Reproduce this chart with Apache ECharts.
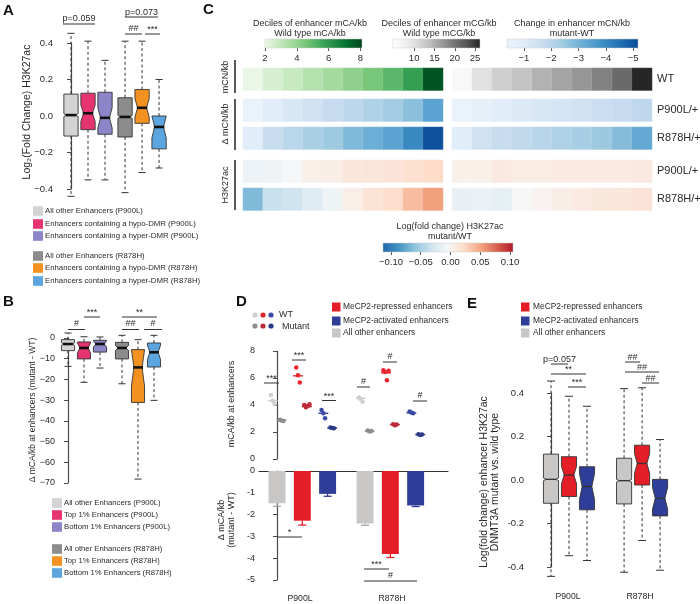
<!DOCTYPE html>
<html><head><meta charset="utf-8">
<script src="https://cdn.jsdelivr.net/npm/echarts@6/dist/echarts.min.js"></script>
<style>html,body{margin:0;padding:0;background:#fff}#c{width:700px;height:604px}</style>
</head><body><div id="c"></div>
<script>
// ================= DATA =================
// Panel A: Log2(Fold Change) H3K27ac (box statistics)
const aNames = ['All other Enhancers (P900L)','Enhancers containing a hypo-DMR (P900L)','Enhancers containing a hyper-DMR (P900L)','All other Enhancers (R878H)','Enhancers containing a hypo-DMR (R878H)','Enhancers containing a hyper-DMR (R878H)'];
const aLow   = [-0.44, -0.35, -0.35, -0.42, -0.31, -0.285];
const aQ1    = [-0.11, -0.075, -0.10, -0.115, -0.04, -0.18];
const aMed   = [0.005, 0.015, -0.01, -0.005, 0.045, -0.06];
const aQ3    = [0.12, 0.125, 0.13, 0.10, 0.145, 0.0];
const aHigh  = [0.453, 0.41, 0.305, 0.41, 0.41, 0.2];
const aNotch = [0.008, 0.045, 0.055, 0.008, 0.05, 0.06];

// Panel B: delta mCA/kb at enhancers (mutant - WT)
const bNames = ['All other Enhancers (P900L)','Top 1% Enhancers (P900L)','Bottom 1% Enhancers (P900L)','All other Enhancers (R878H)','Top 1% Enhancers (R878H)','Bottom 1% Enhancers (R878H)'];
const bLow   = [-13.7, -21.4, -14.5, -22.1, -68.1, -30.1];
const bQ1    = [-6.1, -10.1, -6.8, -10.1, -31.1, -14.0];
const bMed   = [-2.9, -4.8, -2.9, -4.8, -14.2, -6.9];
const bQ3    = [-0.8, -1.9, -1.1, -2.1, -5.6, -2.4];
const bHigh  = [2.4, 0.6, 0.5, 1.3, -0.8, 1.3];
const bNotch = [0.6, 2.4, 1.4, 1.2, 9.0, 3.4];

// Panel C: heatmap deciles
const decileCols = ['1','2','3','4','5','6','7','8','9','10'];
const cRowLabels = ['WT','P900L/+','R878H/+','P900L/+','R878H/+'];
const wtMCA      = [2.07, 2.52, 2.87, 3.28, 3.67, 4.09, 4.53, 5.05, 5.85, 7.75];
const wtMCG      = [6.2, 9.85, 12.0, 13.2, 14.8, 15.9, 17.05, 18.9, 20.9, 26.1];
const dMCA_P900L = [-0.38, -0.95, -1.24, -1.49, -1.75, -1.92, -2.13, -2.35, -2.69, -3.39];
const dMCA_R878H = [-0.9, -1.67, -1.96, -2.25, -2.44, -2.84, -3.12, -3.39, -3.97, -5.05];
const dMCG_P900L = [-0.38, -0.67, -0.95, -1.12, -1.24, -1.35, -1.49, -1.61, -1.75, -1.87];
const dMCG_R878H = [-0.9, -1.46, -1.69, -1.85, -1.99, -2.14, -2.28, -2.47, -2.78, -3.25];
const h3_P900L_mCA = [-0.012, -0.01, -0.006, 0.004, 0.005, 0.012, 0.013, 0.014, 0.018, 0.022];
const h3_R878H_mCA = [-0.065, -0.036, -0.032, -0.021, -0.011, 0.0045, 0.015, 0.021, 0.0387, 0.052];
const h3_P900L_mCG = [0.003, 0.003, 0.009, 0.007, 0.007, 0.008, 0.008, 0.008, 0.008, 0.009];
const h3_R878H_mCG = [-0.015, -0.013, -0.017, -0.004, 0.0, 0.005, 0.008, 0.011, 0.012, 0.014];
const cbGreenTicks = [2, 4, 6, 8];
const cbGrayTicks  = [10, 15, 20, 25];
const cbBlueTicks  = [-1, -2, -3, -4, -5];
const cbRdBuTicks  = [-0.10, -0.05, 0.00, 0.05, 0.10];

// Panel D
const dGroups = ['P900L', 'R878H'];
const dTypes = ['All other enhancers', 'MeCP2-repressed enhancers', 'MeCP2-activated enhancers'];
const dWT_P900L  = [[4.74, 4.32, 4.07], [6.77, 6.2, 5.67], [3.63, 3.39, 3.02]];
const dMut_P900L = [[2.9, 2.85, 2.82], [4.0, 3.83, 3.93, 4.05], [2.33, 2.3, 2.28]];
const dWT_R878H  = [[4.56, 4.44, 4.25], [6.58, 6.45, 5.84, 6.53], [3.51, 3.45, 3.39]];
const dMut_R878H = [[2.11, 2.04, 2.08], [2.58, 2.5, 2.55], [1.84, 1.77, 1.81]];
const dWTMean_P900L  = [4.32, 6.16, 3.39];
const dMutMean_P900L = [2.88, 3.88, 2.3];
const dWTMean_R878H  = [4.49, 6.38, 3.42];
const dMutMean_R878H = [2.06, 2.55, 1.81];
const dDelta_P900L = [-1.48, -2.28, -1.05];
const dErr_P900L   = [0.14, 0.2, 0.11];
const dDelta_R878H = [-2.41, -3.81, -1.58];
const dErr_R878H   = [0.08, 0.16, 0.05];

// Panel E: log fold change enhancer H3K27ac
const eLow   = [-0.443, -0.348, -0.37, -0.424, -0.278, -0.415];
const eQ1    = [-0.107, -0.076, -0.137, -0.11, -0.023, -0.165];
const eMed   = [0.003, 0.023, -0.03, -0.003, 0.076, -0.084];
const eQ3    = [0.119, 0.107, 0.061, 0.10, 0.16, 0.003];
const eHigh  = [0.455, 0.385, 0.339, 0.42, 0.424, 0.186];
const eNotch = [0.006, 0.04, 0.06, 0.006, 0.045, 0.05];

// ================= STYLE =================
const FONT = '"Liberation Sans", Arial, Helvetica, sans-serif';
const TXT = '#2a2a2a';
const AX = '#4a4a4a';
const abColors = ['#d3d3d3', '#e5346f', '#8c86c8', '#8c8c8c', '#f39220', '#5ca5de'];
const typeColors = ['#c9c6c6', '#e41e26', '#2e3d98'];
const wtDot = ['#cfcfcf', '#e8262e', '#3a4ca6'];
const mutDot = ['#8e8e8e', '#bd2a38', '#2b3a88'];
const GREENS = ['#edf8e9','#c7e9c0','#a1d99b','#74c476','#41ab5d','#238b45','#006d2c','#00441b'];
const GREYS = ['#ffffff','#f0f0f0','#d9d9d9','#bdbdbd','#969696','#737373','#525252','#252525'];
const BLUES = ['#0b4a97','#2171b5','#4292c6','#6baed6','#9ecae1','#c6dbef','#deebf7','#eaf3fb'];
const RDBU = ['#2166ac','#4393c3','#92c5de','#d1e5f0','#f7f7f7','#fddbc7','#f4a582','#d6604d','#b2182b'];
const scales = {
  green: {min: 2, max: 8.1, colors: GREENS},
  gray: {min: 4.8, max: 26.2, colors: GREYS},
  blue: {min: -5.18, max: -0.38, colors: BLUES},
  rdbu: {min: -0.1134, max: 0.105, colors: RDBU}
};

const grids = [], xAxes = [], yAxes = [], series = [], visualMaps = [], G = [];
function addGrid(g) { grids.push(Object.assign({containLabel: false}, g)); return grids.length - 1; }
function txt(text, x, y, o) {
  o = o || {};
  return {type: 'text', x: x, y: y, rotation: o.rot || 0, z: 50, silent: true,
    style: {text: text, fill: o.color || TXT, fontSize: o.size || 9, fontFamily: FONT, fontWeight: o.weight || 'normal',
      align: o.align || 'left', verticalAlign: o.va || 'middle'}};
}
function ln(x1, y1, x2, y2, o) {
  o = o || {};
  return {type: 'line', z: 50, silent: true, shape: {x1, y1, x2, y2}, style: {stroke: o.color || '#333', lineWidth: o.w || 1}};
}
function rect(x, y, w, h, fill) { return {type: 'rect', z: 50, silent: true, shape: {x, y, width: w, height: h}, style: {fill}}; }
function sig(x1, x2, y, t, ty, size) { G.push(ln(x1, y, x2, y, {w: 1})); G.push(txt(t, (x1 + x2) / 2, ty, {align: 'center', size: size || 9})); }
const minus = v => String(v).replace('-', '\u2212');

function valueY(gi, min, max, interval, fmt, fs) {
  yAxes.push({type: 'value', gridIndex: gi, min, max, interval,
    axisLine: {show: true, lineStyle: {color: AX, width: 1.2}},
    axisTick: {show: true, length: 4, lineStyle: {color: AX, width: 1}},
    axisLabel: {fontSize: fs || 9, color: TXT, margin: 4, fontFamily: FONT, formatter: fmt},
    splitLine: {show: false}});
  return yAxes.length - 1;
}
function hiddenX(gi, min, max) {
  xAxes.push({type: 'value', gridIndex: gi, min, max, show: false, splitLine: {show: false}});
  return xAxes.length - 1;
}

// notched box renderer
function boxRender(colors, boxW, opt) {
  return function (params, api) {
    const i = params.dataIndex;
    const x = api.value(0), lo = api.value(1), q1 = api.value(2), md = api.value(3), q3 = api.value(4), hi = api.value(5), n = api.value(6);
    const P = v => api.coord([x, v]);
    const pm = P(md), cx = pm[0], ym = pm[1];
    const hw = api.size([boxW, 0])[0] / 2;
    const L = cx - hw, R = cx + hw;
    const yq3 = P(q3)[1], yq1 = P(q1)[1];
    const yn1 = P(Math.min(md + n, q3))[1], yn2 = P(Math.max(md - n, q1))[1];
    const ind = hw * opt.depth;
    const yhi = P(hi)[1], ylo = P(lo)[1];
    const cw = opt.cap;
    const st = '#333';
    const dash = {stroke: st, fill: null, lineWidth: 1, lineDash: [3, 2.5]};
    const solid = {stroke: st, fill: null, lineWidth: 1};
    const mx1 = L + ind - opt.medExt, mx2 = R - ind + opt.medExt;
    return {type: 'group', children: [
      {type: 'line', shape: {x1: cx, y1: yq3, x2: cx, y2: yhi}, style: dash},
      {type: 'line', shape: {x1: cx, y1: yq1, x2: cx, y2: ylo}, style: dash},
      {type: 'line', shape: {x1: cx - cw, y1: yhi, x2: cx + cw, y2: yhi}, style: solid},
      {type: 'line', shape: {x1: cx - cw, y1: ylo, x2: cx + cw, y2: ylo}, style: solid},
      {type: 'polygon', z2: 1, shape: {points: [[L, yq3], [R, yq3], [R, yn1], [R - ind, ym], [R, yn2], [R, yq1], [L, yq1], [L, yn2], [L + ind, ym], [L, yn1]]},
        style: {fill: colors[i], stroke: st, lineWidth: 0.9}},
      {type: 'rect', z2: 5, shape: {x: mx1, y: ym - opt.medW / 2, width: mx2 - mx1, height: opt.medW}, style: {fill: opt.medColor, stroke: null}}
    ]};
  };
}
function boxData(pos, lo, q1, md, q3, hi, n) { return lo.map((_, i) => [pos(i), lo[i], q1[i], md[i], q3[i], hi[i], n[i]]); }

// ================= PANEL C: heatmaps =================
const blockLeft = [243, 452], blockW = 200;
const rowTop = [68, 99, 127, 160, 188], rowH = 22.5;
const hmRows = [[wtMCA, wtMCG], [dMCA_P900L, dMCG_P900L], [dMCA_R878H, dMCG_R878H], [h3_P900L_mCA, h3_P900L_mCG], [h3_R878H_mCA, h3_R878H_mCG]];
const hmScale = [['green', 'gray'], ['blue', 'blue'], ['blue', 'blue'], ['rdbu', 'rdbu'], ['rdbu', 'rdbu']];
const vmSeries = {green: [], gray: [], blue: [], rdbu: []};
hmRows.forEach((pair, r) => {
  pair.forEach((vals, b) => {
    const gi = addGrid({left: blockLeft[b], top: rowTop[r], width: blockW, height: rowH});
    xAxes.push({type: 'category', gridIndex: gi, data: decileCols, show: false});
    yAxes.push({type: 'category', gridIndex: gi, data: [cRowLabels[r]], show: false});
    vmSeries[hmScale[r][b]].push(series.length);
    series.push({type: 'heatmap', xAxisIndex: xAxes.length - 1, yAxisIndex: yAxes.length - 1,
      data: vals.map((v, i) => [i, 0, v]), itemStyle: {borderColor: 'rgba(255,255,255,0.25)', borderWidth: 0.5}, emphasis: {disabled: true}});
  });
});
Object.keys(vmSeries).forEach(k => {
  visualMaps.push({type: 'continuous', show: false, dimension: 2, seriesIndex: vmSeries[k], min: scales[k].min, max: scales[k].max, inRange: {color: scales[k].colors}});
});
function colorbar(key, left, top, width, ticks, fmt, inverse) {
  const sc = scales[key];
  const gi = addGrid({left, top, width, height: 9});
  xAxes.push({type: 'value', gridIndex: gi, min: sc.min, max: sc.max, inverse: !!inverse, position: 'bottom', offset: 2,
    axisLine: {show: false}, splitLine: {show: false},
    axisTick: {show: true, length: 3, customValues: ticks, lineStyle: {color: '#555'}},
    axisLabel: {show: true, customValues: ticks, fontSize: 9.5, color: TXT, margin: 3, fontFamily: FONT, formatter: fmt}});
  yAxes.push({type: 'value', gridIndex: gi, min: 0, max: 1, show: false});
  const cols = inverse ? sc.colors.slice().reverse() : sc.colors;
  series.push({type: 'custom', xAxisIndex: xAxes.length - 1, yAxisIndex: yAxes.length - 1, silent: true, data: [[sc.min, 0]],
    renderItem: function (params, api) {
      const p0 = api.coord([sc.min, 1]), p1 = api.coord([sc.max, 0]);
      const x = Math.min(p0[0], p1[0]), w = Math.abs(p1[0] - p0[0]);
      return {type: 'rect', shape: {x, y: p0[1], width: w, height: p1[1] - p0[1]},
        style: {fill: new echarts.graphic.LinearGradient(0, 0, 1, 0, cols.map((c, i) => ({offset: i / (cols.length - 1), color: c}))), stroke: '#ccc', lineWidth: 0.5}};
    }});
}
colorbar('green', 265, 39, 97, cbGreenTicks, v => String(v));
colorbar('gray', 393, 39, 87, cbGrayTicks, v => String(v));
colorbar('blue', 507, 39, 131, cbBlueTicks, v => minus(v), true);
colorbar('rdbu', 383, 243, 130, cbRdBuTicks, v => minus(Number(v).toFixed(2)));

// ================= PANEL A =================
{
  const gi = addGrid({left: 57, top: 43, width: 113, height: 146});
  const xi = hiddenX(gi, -14 / 17, -14 / 17 + 113 / 17);
  const yi = valueY(gi, -0.4, 0.4, 0.2, v => minus(v.toFixed(1)), 9.5);
  const pos = i => (i % 3) + Math.floor(i / 3) * 3.18;
  series.push({type: 'custom', xAxisIndex: xi, yAxisIndex: yi, clip: false, silent: true,
    encode: {x: 0, y: 3}, data: boxData(pos, aLow, aQ1, aMed, aQ3, aHigh, aNotch),
    renderItem: boxRender(abColors, 0.84, {depth: 0.38, cap: 3.5, medW: 2.6, medExt: 0.8, medColor: '#111'})});
}
// ================= PANEL B =================
{
  const gi = addGrid({left: 59, top: 338, width: 110, height: 145});
  const xi = hiddenX(gi, -9 / 16, -9 / 16 + 110 / 16);
  const yi = valueY(gi, -70, 0, 10, v => minus(v));
  const pos = i => (i % 3) + Math.floor(i / 3) * 3.375;
  series.push({type: 'custom', xAxisIndex: xi, yAxisIndex: yi, clip: false, silent: true,
    encode: {x: 0, y: 3}, data: boxData(pos, bLow, bQ1, bMed, bQ3, bHigh, bNotch),
    renderItem: boxRender(abColors, 0.82, {depth: 0.38, cap: 3.5, medW: 2.6, medExt: 0.8, medColor: '#111'})});
}
// ================= PANEL D =================
const dUnit = 25.3;
const dPos = (g, t) => t + g * 3.48;
{
  const gi = addGrid({left: 259, top: 351, width: 189, height: 108});
  const xi = hiddenX(gi, -18 / dUnit, -18 / dUnit + 189 / dUnit);
  const yi = valueY(gi, 0, 8, 2, v => String(v));
  const wt = [dWT_P900L, dWT_R878H], mu = [dMut_P900L, dMut_R878H];
  const wtM = [dWTMean_P900L, dWTMean_R878H], muM = [dMutMean_P900L, dMutMean_R878H];
  for (let t = 0; t < 3; t++) {
    const ptsW = [], ptsM = [], mW = [], mM = [];
    for (let g = 0; g < 2; g++) {
      const c = dPos(g, t);
      wt[g][t].forEach((v, j, a) => ptsW.push([c - 0.17 + (j - (a.length - 1) / 2) * 0.07, v]));
      mu[g][t].forEach((v, j, a) => ptsM.push([c + 0.18 + (j - (a.length - 1) / 2) * 0.07, v]));
      mW.push([c - 0.17, wtM[g][t]]);
      mM.push([c + 0.18, muM[g][t]]);
    }
    series.push({type: 'scatter', xAxisIndex: xi, yAxisIndex: yi, silent: true, symbolSize: 4.5, data: ptsW, itemStyle: {color: wtDot[t], opacity: 1}});
    series.push({type: 'scatter', xAxisIndex: xi, yAxisIndex: yi, silent: true, symbolSize: 4.5, data: ptsM, itemStyle: {color: mutDot[t], opacity: 1}});
    series.push({type: 'scatter', xAxisIndex: xi, yAxisIndex: yi, silent: true, symbol: 'rect', symbolSize: [10, 1.4], data: mW, itemStyle: {color: wtDot[t], opacity: 1}});
    series.push({type: 'scatter', xAxisIndex: xi, yAxisIndex: yi, silent: true, symbol: 'rect', symbolSize: [10, 1.4], data: mM, itemStyle: {color: mutDot[t], opacity: 1}});
  }
}
{
  const gi = addGrid({left: 259, top: 471, width: 189, height: 109});
  xAxes.push({type: 'value', gridIndex: gi, min: -18 / dUnit, max: -18 / dUnit + 189 / dUnit, position: 'top',
    axisLine: {show: true, onZero: false, lineStyle: {color: '#333', width: 1.2}}, axisTick: {show: false}, axisLabel: {show: false}, splitLine: {show: false}});
  const xi = xAxes.length - 1;
  const yi = valueY(gi, -5, 0, 1, v => String(v));
  const means = [dDelta_P900L, dDelta_R878H], errs = [dErr_P900L, dErr_R878H];
  const data = [];
  for (let g = 0; g < 2; g++) for (let t = 0; t < 3; t++) data.push([dPos(g, t), means[g][t], errs[g][t], t]);
  series.push({type: 'custom', xAxisIndex: xi, yAxisIndex: yi, clip: false, silent: true, encode: {x: 0, y: 1}, data,
    renderItem: function (params, api) {
      const x = api.value(0), v = api.value(1), e = api.value(2), t = api.value(3);
      const hw = api.size([0.67, 0])[0] / 2;
      const p0 = api.coord([x, 0]), p1 = api.coord([x, v]), p2 = api.coord([x, v - e]);
      const col = typeColors[t];
      const ecol = t === 0 ? '#a9a6a6' : col;
      return {type: 'group', children: [
        {type: 'line', shape: {x1: p0[0], y1: p1[1], x2: p0[0], y2: p2[1]}, style: {stroke: ecol, lineWidth: 1.3}},
        {type: 'line', shape: {x1: p0[0] - 4, y1: p2[1], x2: p0[0] + 4, y2: p2[1]}, style: {stroke: ecol, lineWidth: 1.3}},
        {type: 'rect', shape: {x: p0[0] - hw, y: p0[1], width: 2 * hw, height: p1[1] - p0[1]}, style: {fill: col}}
      ]};
    }});
}
// ================= PANEL E =================
{
  const gi = addGrid({left: 528, top: 393, width: 150, height: 174});
  const xi = hiddenX(gi, -23 / 18, -23 / 18 + 150 / 18);
  const yi = valueY(gi, -0.4, 0.4, 0.2, v => v.toFixed(1), 9.5);
  const pos = i => (i % 3) + Math.floor(i / 3) * 4.06;
  const cols = [typeColors[0], typeColors[1], typeColors[2], typeColors[0], typeColors[1], typeColors[2]];
  series.push({type: 'custom', xAxisIndex: xi, yAxisIndex: yi, clip: false, silent: true,
    encode: {x: 0, y: 3}, data: boxData(pos, eLow, eQ1, eMed, eQ3, eHigh, eNotch),
    renderItem: boxRender(cols, 0.84, {depth: 0.36, cap: 4, medW: 1.3, medExt: 0.3, medColor: '#333'})});
}

// ================= TEXT / ANNOTATIONS =================
[['A', 3, 3], ['B', 3, 294], ['C', 203, 2], ['D', 236, 294], ['E', 467, 296]].forEach(l => G.push(txt(l[0], l[1], l[2], {size: 15, weight: 'bold', va: 'top', color: '#111'})));

// A
G.push(txt('Log\u2082(Fold Change) H3K27ac', 27, 112, {rot: Math.PI / 2, align: 'center', size: 10.5}));
sig(63, 95, 24, 'p=0.059', 19, 9);
sig(125, 158, 17, 'p=0.073', 12.5, 9);
sig(125, 142, 34, '##', 29, 9);
sig(145, 160, 34, '***', 30, 9);
const aLegY = [211, 224, 236, 256, 268, 281];
aNames.forEach((n, i) => { G.push(rect(33, aLegY[i] - 4.8, 10, 9.6, abColors[i])); G.push(txt(n, 45, aLegY[i], {size: 7.8})); });

// B
G.push(txt('\u0394 mCA/kb at enhancers (mutant - WT)', 33, 410, {rot: Math.PI / 2, align: 'center', size: 8.5}));
sig(84, 100, 317, '***', 313, 9);
sig(68, 85, 329.5, '#', 324, 9);
sig(122, 157, 317, '**', 313, 9);
sig(122, 139, 329.5, '##', 324, 9);
sig(144, 162, 329.5, '#', 324, 9);
const bLegY = [503, 515, 527, 549, 561, 573];
bNames.forEach((n, i) => { G.push(rect(52, bLegY[i] - 4.8, 10, 9.6, abColors[i])); G.push(txt(n, 64, bLegY[i], {size: 7.7})); });

// C titles
[['Deciles of enhancer mCA/kb', 'Wild type mCA/kb', 310], ['Deciles of enhancer mCG/kb', 'Wild type mCG/kb', 439], ['Change in enhancer mCN/kb', 'mutant-WT', 572]].forEach(t => {
  G.push(txt(t[0], t[2], 24, {align: 'center', size: 9}));
  G.push(txt(t[1], t[2], 33.5, {align: 'center', size: 9}));
});
G.push(txt('Log(fold change) H3K27ac', 450, 227, {align: 'center', size: 9}));
G.push(txt('mutant/WT', 450, 237, {align: 'center', size: 9}));
cRowLabels.forEach((l, r) => G.push(txt(l, 657, rowTop[r] + rowH / 2, {size: 11})));
G.push(ln(235, 60, 235, 93, {w: 1.5, color: '#222'}));
G.push(ln(235, 99, 235, 150, {w: 1.5, color: '#222'}));
G.push(ln(235, 160, 235, 210, {w: 1.5, color: '#222'}));
G.push(txt('mCN/kb', 226, 77, {rot: Math.PI / 2, align: 'center', size: 9}));
G.push(txt('\u0394 mCN/kb', 226, 124, {rot: Math.PI / 2, align: 'center', size: 9}));
G.push(txt('H3K27ac', 226, 185, {rot: Math.PI / 2, align: 'center', size: 9}));

// D legend
[0, 1, 2].forEach(t => {
  G.push({type: 'circle', z: 50, silent: true, shape: {cx: 255 + 8 * t, cy: 315, r: 2.6}, style: {fill: wtDot[t]}});
  G.push({type: 'circle', z: 50, silent: true, shape: {cx: 255 + 8 * t, cy: 326, r: 2.6}, style: {fill: mutDot[t]}});
});
G.push(txt('WT', 279, 315, {size: 9}));
G.push(txt('Mutant', 282, 327, {size: 9}));
const typeOrder = [1, 2, 0];
const legTY = [307, 321, 333];
typeOrder.forEach((t, k) => {
  G.push(rect(332, legTY[k] - 4.5, 8.5, 9, typeColors[t])); G.push(txt(dTypes[t], 343, legTY[k], {size: 8.4}));
  G.push(rect(521, legTY[k] - 4.5, 8.5, 9, typeColors[t])); G.push(txt(dTypes[t], 533, legTY[k], {size: 8.4}));
});
G.push(txt('mCA/kb at enhancers', 232, 404, {rot: Math.PI / 2, align: 'center', size: 9}));
G.push(txt('\u0394 mCA/kb', 222, 520, {rot: Math.PI / 2, align: 'center', size: 9}));
G.push(txt('(mutant - WT)', 232, 520, {rot: Math.PI / 2, align: 'center', size: 9}));
sig(264, 279, 383, '***', 379);
sig(292, 306, 360, '***', 356);
sig(322, 336, 400.5, '***', 397);
sig(357, 370, 387, '#', 382);
sig(383, 397, 362, '#', 357);
sig(413, 427, 401, '#', 396);
sig(277, 302, 537, '*', 533);
sig(364, 389, 569, '***', 565);
sig(364, 417, 581, '#', 575.5);
G.push(txt(dGroups[0], 300, 599, {align: 'center', size: 8.7}));
G.push(txt(dGroups[1], 392, 599, {align: 'center', size: 8.7}));

// E
G.push(txt('Log(fold change) enhancer H3K27ac', 484, 482, {rot: Math.PI / 2, align: 'center', size: 10.5}));
G.push(txt('DNMT3A mutant vs. wild type', 495, 482, {rot: Math.PI / 2, align: 'center', size: 10.5}));
sig(551, 568, 364, 'p=0.057', 359.5);
sig(551, 586, 374, '**', 370);
sig(568, 586, 387, '***', 383);
sig(625, 640, 362, '##', 357.5);
sig(625, 659, 372, '##', 367.5);
sig(642, 659, 383, '##', 378.5);
G.push(txt(dGroups[0], 568, 597, {align: 'center', size: 8.7}));
G.push(txt(dGroups[1], 640, 597, {align: 'center', size: 8.7}));

const chart = echarts.init(document.getElementById('c'), null, {renderer: 'canvas', width: 700, height: 604});
chart.setOption({
  animation: false,
  backgroundColor: '#ffffff',
  textStyle: {fontFamily: FONT},
  grid: grids, xAxis: xAxes, yAxis: yAxes, visualMap: visualMaps, series: series,
  graphic: {elements: G}
});
</script>
</body></html>
